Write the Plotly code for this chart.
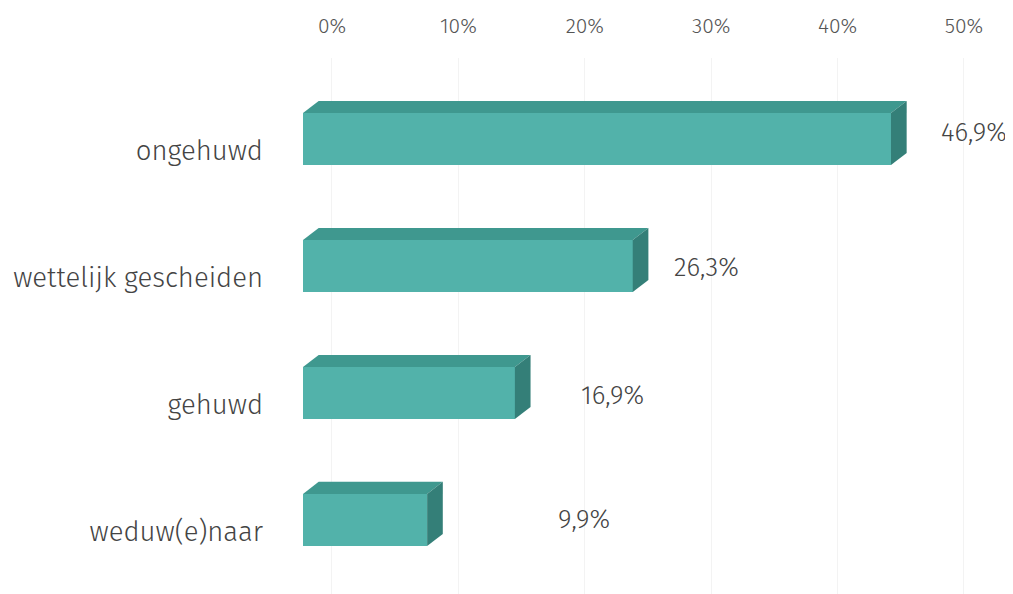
import plotly.graph_objects as go

# ---- data ----
categories = ["ongehuwd", "wettelijk gescheiden", "gehuwd", "weduw(e)naar"]
values = [46.9, 26.3, 16.9, 9.9]
tick_values = [0, 10, 20, 30, 40, 50]
tick_labels = ["0%", "10%", "20%", "30%", "40%", "50%"]

# ---- style / layout constants ----
W, H = 1013, 594
FONT = "Fira Sans, Open Sans, Noto Sans, sans-serif"
FRONT = "#52b2aa"
TOP = "#3f988f"
SIDE = "#347f78"
TEXT = "#444444"
BAR_HALF = 0.205      # half height of bar front face (category units)
DEPTH_X = 1.25        # 3D depth in x (axis units)
DEPTH_Y = 0.095       # 3D depth in y (category units)
LABEL_DROP = 0.09     # category labels sit slightly below bar centre
label_anchor = [50.8, 29.6, 22.2, 19.9]   # value-label positions on the grid axis
label_dy = [-0.05, 0.01, 0.02, 0.0]

ypos = list(range(len(categories)))

fig = go.Figure()

# front faces
fig.add_trace(go.Bar(
    x=values, y=ypos, orientation="h", base=0,
    width=2 * BAR_HALF, marker=dict(color=FRONT, line=dict(width=0)),
    xaxis="x2", yaxis="y", hoverinfo="skip", showlegend=False,
))

# top and side faces (3D extrusion)
for yi, v in zip(ypos, values):
    top = yi - BAR_HALF
    bot = yi + BAR_HALF
    fig.add_trace(go.Scatter(
        x=[0, v, v + DEPTH_X, DEPTH_X, 0],
        y=[top, top, top - DEPTH_Y, top - DEPTH_Y, top],
        fill="toself", fillcolor=TOP, mode="lines", line=dict(width=0),
        xaxis="x2", yaxis="y", hoverinfo="skip", showlegend=False,
    ))
    fig.add_trace(go.Scatter(
        x=[v, v + DEPTH_X, v + DEPTH_X, v, v],
        y=[top, top - DEPTH_Y, bot - DEPTH_Y, bot, top],
        fill="toself", fillcolor=SIDE, mode="lines", line=dict(width=0),
        xaxis="x2", yaxis="y", hoverinfo="skip", showlegend=False,
    ))

# value labels
for yi, v, lx, dy in zip(ypos, values, label_anchor, label_dy):
    fig.add_annotation(
        x=lx, y=yi + dy, xref="x", yref="y",
        text=f"{v:.1f}".replace(".", ",") + "%",
        showarrow=False, font=dict(family=FONT, size=26, color=TEXT, weight=300),
    )

fig.update_layout(
    width=W, height=H,
    margin=dict(l=0, r=0, t=50, b=0),
    paper_bgcolor="white", plot_bgcolor="white",
    bargap=0,
    xaxis=dict(
        side="top", range=[-25.63, 54.51],
        tickvals=tick_values, ticktext=tick_labels,
        tickfont=dict(family=FONT, size=21, color="#555555", weight=300),
        showgrid=True, gridcolor="#f3f3f3", gridwidth=1,
        zeroline=False, showline=False, ticks="", ticklabelstandoff=20,
        fixedrange=True,
    ),
    xaxis2=dict(
        overlaying="x", range=[-23.53, 57.27], visible=False,
        showgrid=False, zeroline=False,
    ),
    yaxis=dict(
        range=[3.646, -0.638],
        tickvals=[y + LABEL_DROP for y in ypos], ticktext=categories,
        tickfont=dict(family=FONT, size=27.5, color=TEXT, weight=300),
        anchor="free", position=0.2517,
        showgrid=False, zeroline=False, showline=False, ticks="",
    ),
)

fig.write_html("out.html")
